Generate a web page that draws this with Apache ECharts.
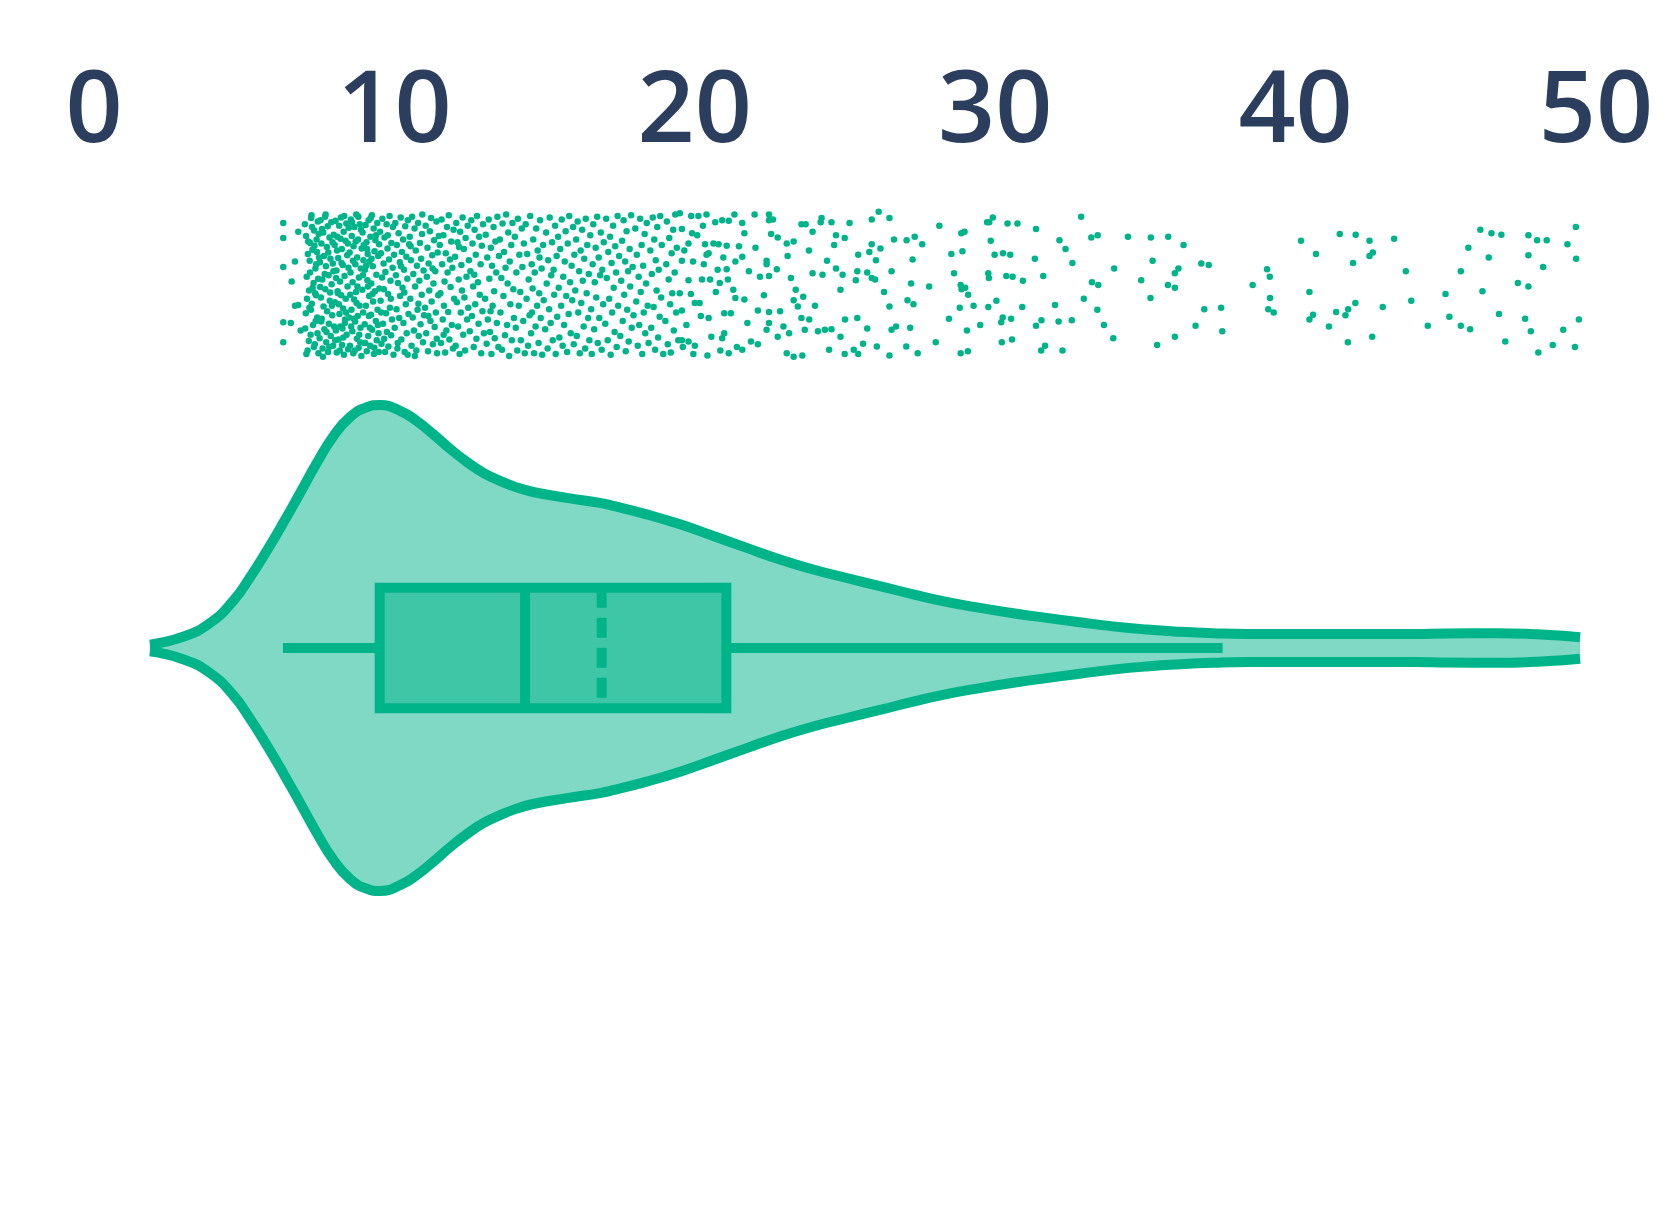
<!DOCTYPE html>
<html>
<head>
<meta charset="utf-8">
<script src="https://cdn.jsdelivr.net/npm/echarts@6/dist/echarts.min.js"></script>
<style>
html,body{margin:0;padding:0;background:#ffffff;}
#chart{width:1680px;height:1210px;}
</style>
</head>
<body>
<div id="chart"></div>
<script>
// ---------- data ----------
const axisTicks = [0, 10, 20, 30, 40, 50];

// violin outline: value positions and relative density (peak = 1)
const violinX = [1.86,2.96,3.86,4.64,5.19,5.75,6.30,6.86,7.41,7.97,8.52,9.08,9.52,10.19,10.74,11.30,11.85,12.41,12.96,13.52,14.07,14.62,15.74,16.84,17.29,18.40,19.51,20.62,21.73,22.84,23.94,25.06,26.16,27.27,28.38,29.49,30.60,31.71,32.82,33.92,35.04,36.15,37.25,38.37,39.48,41.70,43.91,45.03,46.69,47.80,48.90,49.47];
const violinDensity = [0.014,0.046,0.103,0.195,0.290,0.400,0.515,0.638,0.760,0.872,0.950,0.991,1.000,0.976,0.935,0.879,0.820,0.766,0.721,0.688,0.661,0.642,0.618,0.597,0.585,0.550,0.509,0.461,0.412,0.364,0.323,0.288,0.255,0.221,0.190,0.165,0.143,0.124,0.106,0.089,0.076,0.067,0.061,0.058,0.058,0.058,0.058,0.060,0.061,0.058,0.050,0.044];

// box plot: [lower whisker, Q1, median, Q3, upper whisker], mean
const boxStats = [6.29, 9.51, 14.35, 21.05, 37.57];
const meanValue = 16.9;

// jittered strip points: [value, jitter % of strip half-height]
const stripLow = [
[6.30,90],[6.30,68],[6.30,26],[6.30,-54],[6.30,-83],[6.58,5],[6.80,77],[6.80,-29],[6.69,34],[6.69,-30],[6.55,-55],[6.88,-66],
[7.02,88],[7.05,-41],[7.08,12],[7.11,-95],[7.13,63],[7.16,-8],[7.18,35],[7.21,-72],[7.23,97],[7.25,-27],[7.27,51],[7.29,-58],[7.31,3],[7.33,79],[7.35,-86],[7.37,24],[7.39,-15],[7.41,66],[7.43,-47],[7.45,92],[7.47,-99],[7.49,40],[7.03,-63],[7.06,71],[7.09,-20],[7.12,45],[7.15,-81],[7.19,18],[7.22,-36],[7.26,84],[7.28,-4],[7.32,-90],[7.34,57],[7.38,-52],[7.40,30],[7.44,-70],[7.46,9],[7.48,74],[7.07,-100],[7.17,-33],[7.24,101],[7.36,-12],[7.42,48],[7.20,61],
[7.51,-77],[7.52,33],[7.54,94],[7.55,-18],[7.57,60],[7.58,-49],[7.60,8],[7.61,-92],[7.63,76],[7.64,-31],[7.66,42],[7.67,-64],[7.69,99],[7.70,-6],[7.72,27],[7.73,-83],[7.75,55],[7.76,-38],[7.78,85],[7.79,-97],[7.81,14],[7.82,-56],[7.84,69],[7.85,-23],[7.87,38],[7.88,-74],[7.90,91],[7.91,1],[7.93,-44],[7.94,62],[7.96,-88],[7.97,20],[7.99,-60],[7.53,-3],[7.59,81],[7.62,-104],[7.68,16],[7.74,-68],[7.80,47],[7.86,-11],[7.92,-30],[7.98,73],[7.56,-53],[7.71,102],[7.83,-90],[7.95,31],
[8.01,58],[8.02,-25],[8.04,93],[8.05,-66],[8.07,21],[8.08,-98],[8.10,70],[8.11,-9],[8.13,39],[8.14,-79],[8.16,86],[8.17,-42],[8.19,5],[8.20,-60],[8.22,98],[8.23,-15],[8.25,52],[8.26,-87],[8.28,29],[8.29,-34],[8.31,77],[8.32,-101],[8.34,13],[8.35,-55],[8.37,64],[8.38,-20],[8.40,89],[8.41,-72],[8.43,43],[8.44,-2],[8.46,-93],[8.47,25],[8.49,-47],[8.03,-80],[8.09,50],[8.15,-28],[8.21,67],[8.27,-63],[8.33,100],[8.39,-40],[8.45,60],[8.48,83],[8.06,10],[8.12,-12],[8.18,-95],[8.24,32],[8.30,-76],[8.36,-50],
[8.51,47],[8.52,-88],[8.54,18],[8.55,95],[8.57,-36],[8.58,71],[8.60,-67],[8.61,4],[8.63,-99],[8.64,56],[8.66,-21],[8.67,84],[8.69,-53],[8.70,30],[8.72,-10],[8.73,102],[8.75,-78],[8.76,40],[8.78,-45],[8.79,66],[8.81,-91],[8.82,11],[8.84,-30],[8.85,88],[8.87,-62],[8.88,24],[8.90,-103],[8.91,53],[8.93,-7],[8.94,76],[8.96,-40],[8.97,36],[8.99,-84],[8.53,-14],[8.59,91],[8.65,-49],[8.71,63],[8.77,-2],[8.83,-72],[8.89,80],[8.95,14],[8.56,-60],[8.62,35],[8.68,-95],[8.74,-26],[8.80,99],[8.86,-83],[8.98,58],
[9.01,-57],[9.02,22],[9.04,87],[9.05,-30],[9.07,62],[9.08,-96],[9.10,7],[9.11,45],[9.13,-74],[9.14,94],[9.16,-16],[9.17,34],[9.19,-88],[9.20,70],[9.22,-43],[9.23,2],[9.25,101],[9.26,-65],[9.28,27],[9.29,-24],[9.31,82],[9.32,-100],[9.34,49],[9.35,-9],[9.37,65],[9.38,-52],[9.40,15],[9.41,-80],[9.43,90],[9.44,-36],[9.46,42],[9.47,-70],[9.49,59],[9.50,-5],[9.03,-84],[9.09,52],[9.15,-45],[9.21,97],[9.27,-13],[9.33,-91],[9.39,72],[9.45,-58],[9.06,28],[9.12,-2],[9.18,-62],[9.24,38],[9.48,-97]
];
const stripMid = [
[9.52,77],[9.54,-23],[9.55,46],[9.57,-85],[9.59,11],[9.60,96],[9.62,-56],[9.64,31],[9.65,-6],[9.67,69],[9.69,-97],[9.70,19],[9.72,-41],[9.74,88],[9.75,-68],[9.77,53],[9.79,-13],[9.80,-89],[9.82,37],[9.84,100],[9.85,-33],[9.87,6],[9.89,-73],[9.90,61],[9.92,-50],[9.94,25],[9.95,84],[9.97,-101],[9.99,44],[9.56,-40],[9.66,-78],[9.78,72],[9.88,-20],
[10.01,-62],[10.03,90],[10.05,14],[10.07,-35],[10.08,58],[10.10,-92],[10.12,3],[10.14,75],[10.16,-48],[10.18,33],[10.19,-16],[10.21,98],[10.23,-79],[10.25,48],[10.27,-4],[10.29,66],[10.30,-55],[10.32,22],[10.34,-97],[10.36,85],[10.38,-28],[10.40,41],[10.41,-70],[10.43,9],[10.45,94],[10.47,-42],[10.49,59],[10.11,-84],[10.22,27],[10.33,-11],[10.44,-101],
[10.51,70],[10.53,-20],[10.55,36],[10.57,-88],[10.59,99],[10.61,-47],[10.63,16],[10.65,-66],[10.67,82],[10.69,-2],[10.71,50],[10.73,-95],[10.75,28],[10.77,-36],[10.79,90],[10.81,-74],[10.83,6],[10.85,61],[10.87,-57],[10.89,38],[10.91,-14],[10.93,102],[10.95,-83],[10.97,21],[10.99,-44],[10.54,56],[10.68,-103],[10.80,-27],[10.92,74],
[11.02,-33],[11.04,86],[11.06,-70],[11.08,12],[11.10,54],[11.12,-96],[11.14,31],[11.16,-8],[11.18,78],[11.20,-52],[11.22,97],[11.24,-24],[11.26,43],[11.28,-86],[11.30,2],[11.32,65],[11.34,-61],[11.36,20],[11.38,-40],[11.40,92],[11.42,-99],[11.44,47],[11.46,-15],[11.48,71],[11.13,-45],[11.27,24],[11.41,-78],
[11.51,58],[11.53,-12],[11.55,-84],[11.57,95],[11.59,30],[11.61,-50],[11.63,72],[11.65,-30],[11.67,5],[11.69,-98],[11.71,46],[11.73,-66],[11.75,84],[11.77,18],[11.79,-39],[11.81,101],[11.83,-79],[11.85,37],[11.87,-3],[11.89,63],[11.91,-58],[11.93,25],[11.95,-92],[11.97,80],[11.99,-20],[11.64,-72],
[12.02,41],[12.04,-88],[12.06,90],[12.08,-25],[12.10,62],[12.12,-60],[12.14,8],[12.17,-100],[12.19,77],[12.21,-40],[12.23,29],[12.25,-8],[12.27,98],[12.29,-72],[12.31,52],[12.33,-18],[12.35,-95],[12.37,68],[12.40,12],[12.42,-50],[12.44,86],[12.46,-33],[12.48,36],[12.15,55],
[12.51,-67],[12.53,20],[12.56,94],[12.58,-45],[12.60,60],[12.62,-2],[12.64,-90],[12.67,80],[12.69,-28],[12.71,44],[12.73,-78],[12.75,100],[12.78,4],[12.80,-56],[12.82,70],[12.84,-14],[12.87,30],[12.89,-99],[12.91,57],[12.93,-38],[12.95,88],[12.98,-70],[12.66,15],
[13.02,-20],[13.04,73],[13.07,-85],[13.09,40],[13.11,-50],[13.14,95],[13.16,9],[13.18,-68],[13.21,54],[13.23,-100],[13.25,28],[13.27,-30],[13.30,84],[13.32,-9],[13.34,-77],[13.36,63],[13.39,18],[13.41,-55],[13.43,99],[13.46,-90],[13.48,42],[13.20,-38],
[13.51,66],[13.53,-40],[13.56,10],[13.58,-94],[13.60,89],[13.63,-16],[13.65,48],[13.68,-73],[13.70,25],[13.72,102],[13.75,-58],[13.77,2],[13.79,76],[13.82,-103],[13.84,34],[13.86,-28],[13.89,58],[13.91,-80],[13.93,90],[13.96,-6],[13.98,-48],
[14.01,70],[14.04,-62],[14.06,18],[14.09,-95],[14.11,96],[14.14,-30],[14.16,44],[14.19,-10],[14.21,-80],[14.24,82],[14.26,26],[14.29,-52],[14.31,60],[14.34,-99],
[14.37,88],[14.40,-20],[14.42,45],[14.45,-88],[14.47,8],[14.50,-44],[14.52,100],[14.55,-70],[14.57,30],[14.60,-5],[14.62,66],[14.65,-99],[14.67,18],[14.70,-60],[14.72,82],[14.75,-30],[14.77,50],[14.80,-84],[14.82,-12],[14.85,94],[14.87,-48],[14.90,24],[14.92,-101],[14.95,58],[14.97,-22],[14.58,-40],[14.83,40],
[15.02,-64],[15.05,76],[15.07,2],[15.10,-92],[15.12,36],[15.15,-35],[15.17,98],[15.20,-55],[15.22,14],[15.25,62],[15.27,-80],[15.30,22],[15.32,-14],[15.35,86],[15.37,-100],[15.40,42],[15.42,-46],[15.45,70],[15.47,-4],[15.49,-76],
[15.52,52],[15.55,-30],[15.57,95],[15.60,-88],[15.62,12],[15.65,-58],[15.67,34],[15.70,78],[15.72,-16],[15.75,-97],[15.77,60],[15.80,-42],[15.82,100],[15.85,4],[15.87,-70],[15.90,28],[15.92,-22],[15.95,84],[15.97,-86],[15.99,44],
[16.02,-8],[16.05,66],[16.07,-74],[16.10,92],[16.12,-40],[16.15,20],[16.17,-99],[16.20,50],[16.22,-26],[16.25,80],[16.27,6],[16.30,-60],[16.32,38],[16.35,-92],[16.37,96],[16.40,-12],[16.42,58],[16.45,-48],[16.47,16],[16.49,-80],
[16.52,72],[16.55,-35],[16.57,-100],[16.60,30],[16.62,88],[16.65,-64],[16.67,4],[16.70,54],[16.72,-18],[16.75,99],[16.77,-84],[16.80,40],[16.82,-48],[16.85,14],[16.87,76],[16.90,-94],[16.92,22],[16.95,-28],[16.97,62],
[17.02,-56],[17.05,96],[17.07,10],[17.10,-80],[17.12,48],[17.15,-20],[17.18,70],[17.20,-101],[17.23,32],[17.25,-40],[17.28,86],[17.30,-4],[17.33,-68],[17.35,56],[17.38,18],[17.40,-90],[17.43,100],[17.45,-30],[17.48,42],
[17.52,-74],[17.55,6],[17.58,64],[17.60,-52],[17.63,94],[17.65,-14],[17.68,34],[17.70,-96],[17.73,78],[17.75,-36],[17.78,20],[17.80,-82],[17.83,52],[17.85,-2],[17.88,101],[17.90,-62],[17.93,26],[17.96,-44],
[18.02,82],[18.05,-24],[18.07,44],[18.10,-88],[18.13,12],[18.15,-58],[18.18,96],[18.20,-10],[18.23,58],[18.25,-100],[18.28,28],[18.30,-40],[18.33,74],[18.35,-70],[18.38,2],[18.40,90],[18.43,-30],[18.46,-84],
[18.52,50],[18.55,-62],[18.57,16],[18.60,98],[18.63,-32],[18.65,66],[18.68,-94],[18.70,36],[18.73,-8],[18.75,84],[18.78,-76],[18.80,22],[18.83,-46],[18.85,100],[18.88,-18],[18.90,58],[18.95,-100],
[19.02,-52],[19.05,30],[19.07,92],[19.10,-86],[19.13,8],[19.15,68],[19.18,-28],[19.20,-98],[19.23,46],[19.25,-12],[19.28,80],[19.30,-66],[19.33,18],[19.35,102],[19.38,-40],[19.40,54],[19.45,-80]
];
const stripHigh = [
[19.5,104],[19.88,100],[20.39,102],[20.91,94],[21.32,102],[21.99,102],[22.47,102],[22.47,94],[23.55,88],[23.69,88],[24.22,97],[24.55,91],[24.19,91],[23.92,77],[26.12,106],[25.89,95],[26.48,97],
[19.57,81],[19.91,75],[20.27,86],[20.68,91],[21.13,93],[21.58,90],[21.65,75],[22.54,74],[22.76,69],[23.29,63],[23.06,60],[24.7,72],[24.99,68],[24.64,58],[25.44,44],[25.89,59],[25.81,48],[26.18,53],[26.03,36],[26.63,66],[19.79,60],[20.34,59],[20.39,44],[20.79,59],[21.06,57],[21.47,56],[22.02,54],[22.39,35],[23.09,42],
[19.57,35],[19.94,34],[20.46,46],[20.76,22],[21.06,23],[21.35,34],[21.58,41],[22.39,30],[22.47,13],[22.73,23],[23.92,17],[24.25,15],[24.7,24],[24.92,15],[25.36,7],[25.41,20],[25.74,18],[25.89,10],[26.0,8],[26.55,20],[19.79,7],[20.24,8],[20.51,8],[20.83,3],[21.1,8],[21.28,-7],[22.17,12],[23.36,-7],[23.61,-17],
[19.5,-12],[19.87,-13],[19.57,-37],[20.0,-26],[20.16,-26],[20.46,-48],[20.98,-41],[21.2,-41],[21.35,-19],[21.65,-21],[22.1,-37],[22.47,-39],[22.84,-38],[23.29,-22],[23.43,-31],[23.81,-50],[24.1,-67],[24.85,-7],[25.41,-48],[25.74,-63],[26.48,-31],
[19.57,-80],[19.79,-82],[20.0,-88],[20.42,-102],[21.13,-99],[21.58,-94],[21.87,-82],[22.1,-86],[22.39,-65],[22.47,-55],[22.76,-75],[23.14,-70],[23.55,-48],[23.66,-65],[24.33,-65],[24.55,-64],[24.85,-75],[24.99,-100],[25.29,-94],[25.44,-100],[26.06,-89],[26.48,-102],[26.55,-65],[20.91,-77],[20.98,-70],[23.06,-99],[23.29,-104],[23.58,-102],[24.47,-94],
[19.65,50],[19.72,-58],[19.95,-100],[20.08,72],[20.2,-45],[20.3,30],[20.55,-75],[20.62,60],[20.7,-10],[20.85,-95],[20.95,40],[19.6,-90],[20.12,100],
[21.4,-90],[21.8,20],[22.3,-15],[22.6,95],[22.95,-60],[23.2,10],[23.8,50],[24.0,-30],[24.4,35],[25.0,-50],[25.15,90],[25.6,-85],[26.3,-10],[26.7,-60],[21.75,-55]
];
const stripTail = [
[27.05,65],[27.32,70],[27.57,59],[27.25,37],[27.2,2],[27.08,-22],[27.28,-28],[27.17,-62],[27.04,-89],[27.42,-99],[27.80,-2],[28.02,-83],[28.14,86],[28.46,-49],[28.54,45],[28.63,17],[28.87,75],[28.98,77],[28.91,49],[28.85,0],[28.88,-6],[29.0,-4],[29.1,-14],[28.82,-33],[29.28,-30],[29.06,-66],[28.85,-99],[29.09,-96],[29.5,-58],
[29.73,91],[29.8,91],[29.92,98],[29.85,64],[29.98,44],[30.26,46],[30.5,44],[29.77,17],[29.79,10],[30.37,13],[30.58,12],[30.04,-23],[29.77,-32],[30.25,-47],[30.2,-54],[30.53,-49],[30.22,-83],[30.56,-79],[30.41,89],[30.74,89],[30.92,6],[30.9,-32],
[31.36,81],[31.32,38],[31.6,13],[31.36,-59],[31.54,-51],[31.53,-95],[31.66,-88],[31.99,-29],[32.11,-53],[32.24,-95],[32.55,-51],[32.14,65],[32.34,52],[32.57,32],[32.86,99],[33.2,69],[33.41,72],[33.22,4],[33.43,0],[32.95,-20],[33.4,-36],[33.62,-58],[33.93,-77],[33.96,24],
[34.42,70],[34.86,7],[35.18,69],[35.24,35],[35.17,-19],[35.39,-87],[35.76,70],[36.27,58],[35.75,0],[35.98,-4],[35.98,17],[36.1,24],[35.98,-75],[36.67,-59],[36.86,31],[37.11,29],[36.96,-35],[37.52,-33],[37.56,-67],
[38.57,0],[39.05,23],[39.14,12],[39.15,-19],[39.09,-35],[39.27,-40],[40.18,64],[40.68,45],[40.46,-10],[40.58,-43],[40.46,-50],[41.11,-60],[41.35,-39],[41.75,-35],[41.66,-44],[41.99,-26],[41.74,-83],[41.47,74],[42.0,73],[42.46,64],[42.57,47],[42.46,42],[41.91,32],[42.55,-75],[42.9,-32],[43.28,67],[43.67,20],[43.85,-23],[44.4,-59],
[44.99,-13],[45.12,-46],[45.5,-59],[45.81,-64],[45.5,20],[45.75,54],[46.15,80],[46.52,75],[46.85,73],[46.43,40],[46.22,-9],[46.77,-42],[46.98,-82],[47.4,3],[47.75,72],[48.04,65],[48.36,65],[47.75,43],[48.24,26],[47.75,-2],[47.64,-49],[47.83,-67],[48.08,-98],[48.56,-87],[48.91,-65],[49.05,59],[49.33,84],[49.34,38],[49.43,-50],[49.3,-90]
];

// ---------- chart ----------
const GREEN = '#00b48a';
const FILL = 'rgba(0,180,138,0.5)';
const LABEL = '#2c3e5d';

const stripData = stripLow.concat(stripMid, stripHigh, stripTail).map(p => [p[0], p[1] / 100]);
const upper = violinX.map((x, i) => [x, violinDensity[i]]);
const lower = violinX.map((x, i) => [x, -violinDensity[i]]);
const BOX_HALF = 0.248;

const chart = echarts.init(document.getElementById('chart'), null, {renderer: 'canvas'});
const violinLine = (data) => ({
  type: 'line', xAxisIndex: 1, yAxisIndex: 1, silent: true,
  smooth: 0.5,
  showSymbol: false, symbol: 'none',
  lineStyle: {color: GREEN, width: 10, cap: 'butt', join: 'round', opacity: 1},
  areaStyle: {color: FILL, opacity: 1, origin: 0},
  data: data
});
chart.setOption({
  animation: false,
  backgroundColor: '#ffffff',
  grid: [
    {left: 94, right: 84, top: 209.1, height: 151.8},
    {left: 94, right: 84, top: 356.4, height: 583.2}
  ],
  xAxis: [
    {
      gridIndex: 0, type: 'value', position: 'top', min: 0, max: 50, interval: 10,
      axisLine: {show: false}, axisTick: {show: false}, splitLine: {show: false},
      axisLabel: {
        show: true, margin: 46, color: LABEL, fontSize: 100, fontWeight: 600,
        fontFamily: '"Open Sans", "Noto Sans", sans-serif',
        formatter: v => axisTicks.indexOf(v) >= 0 ? String(v) : ''
      }
    },
    {gridIndex: 1, type: 'value', min: 0, max: 50, interval: 10, show: false}
  ],
  yAxis: [
    {gridIndex: 0, type: 'value', min: -1.1, max: 1.1, show: false},
    {gridIndex: 1, type: 'value', min: -1.2, max: 1.2, show: false}
  ],
  series: [
    {
      type: 'scatter', xAxisIndex: 0, yAxisIndex: 0, silent: true, clip: false,
      symbol: 'circle', symbolSize: 6.5,
      itemStyle: {color: GREEN, opacity: 1},
      data: stripData
    },
    violinLine(upper),
    violinLine(lower),
    {
      type: 'custom', xAxisIndex: 1, yAxisIndex: 1, silent: true,
      data: [[boxStats[2], 0]],
      renderItem: function (params, api) {
        const tl = api.coord([boxStats[1], BOX_HALF]);
        const br = api.coord([boxStats[3], -BOX_HALF]);
        const wl = api.coord([boxStats[0], 0]);
        const q1m = api.coord([boxStats[1], 0]);
        const q3m = api.coord([boxStats[3], 0]);
        const wh = api.coord([boxStats[4], 0]);
        const medT = api.coord([boxStats[2], BOX_HALF]);
        const medB = api.coord([boxStats[2], -BOX_HALF]);
        const meanT = api.coord([meanValue, BOX_HALF]);
        const meanB = api.coord([meanValue, -BOX_HALF]);
        const lineStyle = {stroke: GREEN, lineWidth: 10, lineCap: 'butt', fill: null};
        return {
          type: 'group',
          children: [
            {type: 'line', shape: {x1: wl[0], y1: wl[1], x2: q1m[0], y2: q1m[1]}, style: lineStyle},
            {type: 'line', shape: {x1: q3m[0], y1: q3m[1], x2: wh[0], y2: wh[1]}, style: lineStyle},
            {type: 'rect', shape: {x: tl[0], y: tl[1], width: br[0] - tl[0], height: br[1] - tl[1]},
             style: {fill: FILL, stroke: GREEN, lineWidth: 10, lineJoin: 'miter'}},
            {type: 'line', shape: {x1: medT[0], y1: medT[1], x2: medB[0], y2: medB[1]}, style: lineStyle},
            {type: 'line', shape: {x1: meanT[0], y1: meanT[1], x2: meanB[0], y2: meanB[1]},
             style: {stroke: GREEN, lineWidth: 10, lineCap: 'butt', lineDash: [20, 10], fill: null}}
          ]
        };
      }
    }
  ]
});
</script>
</body>
</html>
